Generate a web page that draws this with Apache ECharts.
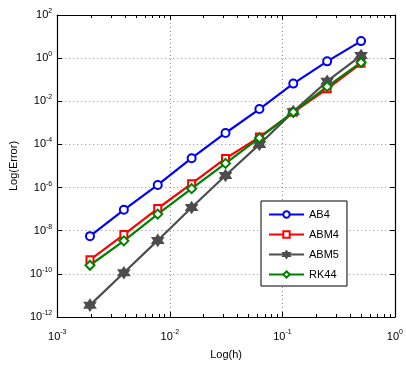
<!DOCTYPE html>
<html>
<head>
<meta charset="utf-8">
<script src="https://cdn.jsdelivr.net/npm/echarts@6/dist/echarts.min.js"></script>
<style>
  html, body { margin: 0; padding: 0; background: #fff; }
  #chart { width: 406px; height: 365px; }
</style>
</head>
<body>
<div id="chart"></div>
<script>
// step sizes h = 1/512 ... 1/2
const steps = [1 / 512, 1 / 256, 1 / 128, 1 / 64, 1 / 32, 1 / 16, 1 / 8, 1 / 4, 1 / 2];

// error values
const ab4 = [5.6e-9, 9.3e-8, 1.32e-6, 2.29e-5, 3.39e-4, 4.37e-3, 6.6e-2, 0.71, 6.17];
const abm4 = [4.47e-10, 6.6e-9, 1.07e-7, 1.51e-6, 2.24e-5, 2.19e-4, 3.09e-3, 3.8e-2, 0.575];
const abm5 = [3.55e-12, 1.12e-10, 3.55e-9, 1.2e-7, 3.63e-6, 1.0e-4, 3.31e-3, 8.5e-2, 1.32];
const rk44 = [2.51e-10, 3.39e-9, 5.89e-8, 8.9e-7, 1.32e-5, 2.0e-4, 3.16e-3, 4.79e-2, 0.63];

// tick labels
const xDecades = [1e-3, 1e-2, 1e-1, 1];
const yDecades = [1e-12, 1e-10, 1e-8, 1e-6, 1e-4, 1e-2, 1, 1e2];

const xMinorTicks = [];
xDecades.slice(0, 3).forEach(d => {
    for (let k = 2; k <= 9; k++) xMinorTicks.push(k * d);
});

const hexagram = 'path://M10 0L12.89 5L18.66 5L15.77 10L18.66 15L12.89 15L10 20L7.11 15L1.34 15L4.23 10L1.34 5L7.11 5Z';

const font = 'Liberation Sans, Arial, sans-serif';

function powLabel(v) {
    const e = Math.round(Math.log10(v));
    return '{b|10}{s|' + e + '}';
}
const powRich = {
    b: { fontSize: 11, fontFamily: font, color: '#000' },
    s: { fontSize: 7, fontFamily: font, color: '#000', padding: [0, 0, 8, 0] }
};

const gridLine = { show: true, lineStyle: { color: '#8c8c8c', type: [1, 3], width: 1 } };
const boxLine = { show: true, lineStyle: { color: '#000', width: 1.2 } };
const tick = (vals, len) => ({ show: true, inside: true, length: len, customValues: vals, lineStyle: { color: '#000' } });

function logX(extra) {
    return Object.assign({ type: 'log', logBase: 10, min: 1e-3, max: 1 }, extra);
}
function logY(extra) {
    return Object.assign({ type: 'log', logBase: 10, min: 1e-12, max: 1e2 }, extra);
}

function mkSeries(name, data, color, symbol, size) {
    return {
        name: name,
        type: 'line',
        xAxisIndex: 0,
        yAxisIndex: 0,
        data: steps.map((h, i) => [h, data[i]]),
        symbol: symbol,
        symbolSize: size,
        showAllSymbol: true,
        lineStyle: { color: color, width: 2.2 },
        itemStyle: { color: color, borderColor: color, borderWidth: 2 },
        emphasis: { disabled: true }
    };
}

const chart = echarts.init(document.getElementById('chart'));
chart.setOption({
    animation: false,
    textStyle: { fontFamily: font },
    grid: { left: 47, right: 8, top: 15, bottom: 42, containLabel: false },
    legend: {
        orient: 'vertical',
        left: 261,
        top: 201,
        padding: [8, 8, 6, 7],
        itemGap: 9,
        itemWidth: 35,
        itemHeight: 8,
        backgroundColor: '#fff',
        borderColor: '#000',
        borderWidth: 1,
        borderRadius: 0,
        textStyle: { fontSize: 11, fontFamily: font, color: '#000' },
        data: ['AB4', 'ABM4', 'ABM5', 'RK44']
    },
    xAxis: [
        logX({
            position: 'bottom',
            name: 'Log(h)',
            nameLocation: 'middle',
            nameGap: 32,
            nameTextStyle: { fontSize: 11, fontFamily: font, color: '#000' },
            axisLine: boxLine,
            axisTick: tick(xDecades, 5),
            axisLabel: { customValues: xDecades, formatter: powLabel, rich: powRich, margin: 12 },
            splitLine: gridLine
        }),
        logX({
            position: 'top',
            axisLine: boxLine,
            axisTick: tick(xDecades, 5),
            axisLabel: { show: false },
            splitLine: { show: false }
        }),
        // minor ticks, bottom and top
        logX({
            position: 'bottom',
            axisLine: { show: false },
            axisTick: tick(xMinorTicks, 3),
            axisLabel: { show: false },
            splitLine: { show: false }
        }),
        logX({
            position: 'top',
            axisLine: { show: false },
            axisTick: tick(xMinorTicks, 3),
            axisLabel: { show: false },
            splitLine: { show: false }
        })
    ],
    yAxis: [
        logY({
            position: 'left',
            name: 'Log(Error)',
            nameLocation: 'middle',
            nameGap: 33,
            nameTextStyle: { fontSize: 11, fontFamily: font, color: '#000' },
            axisLine: boxLine,
            axisTick: tick(yDecades, 5),
            axisLabel: { customValues: yDecades, formatter: powLabel, rich: powRich, margin: 5 },
            splitLine: gridLine
        }),
        logY({
            position: 'right',
            axisLine: boxLine,
            axisTick: tick(yDecades, 5),
            axisLabel: { show: false },
            splitLine: { show: false }
        })
    ],
    series: [
        mkSeries('AB4', ab4, '#0000ff', 'emptyCircle', 8),
        mkSeries('ABM4', abm4, '#ff0000', 'emptyRect', 7),
        mkSeries('ABM5', abm5, '#4d4d4d', hexagram, 10),
        mkSeries('RK44', rk44, '#008000', 'emptyDiamond', 9)
    ]
});
</script>
</body>
</html>
